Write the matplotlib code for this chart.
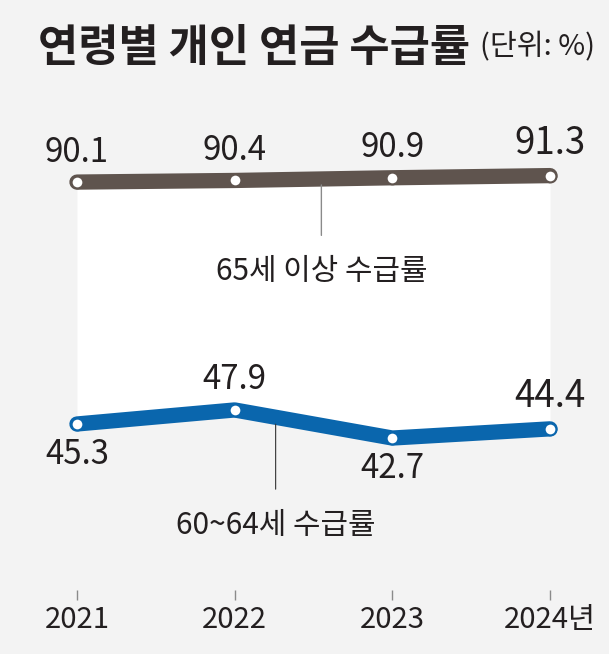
import matplotlib.pyplot as plt
from matplotlib import font_manager as fm

plt.rcParams['font.family'] = ['Noto Sans CJK KR', 'DejaVu Sans']

# data
years = ['2021', '2022', '2023', '2024년']
over65 = [90.1, 90.4, 90.9, 91.3]
age60_64 = [45.3, 47.9, 42.7, 44.4]

bg = '#f3f3f3'
brown = '#5f544e'
blue = '#0a66ad'
txt = '#231f20'

# numbers in the original use a condensed face; use one if there is one
num_font = ['Noto Sans CJK KR', 'DejaVu Sans']
num_stretch = 'normal'
k = 0.88
for fam, st in [('Noto Sans', 'condensed'), ('Noto Sans Condensed', 'normal'),
                ('Liberation Sans Narrow', 'normal')]:
    try:
        path = fm.findfont(fm.FontProperties(family=fam, stretch=st),
                           fallback_to_default=False)
    except ValueError:
        continue
    if 'ondensed' in path or 'arrow' in path:
        num_font = [fam, 'Noto Sans CJK KR']
        num_stretch = st
        k = 1.0
        break

fig = plt.figure(figsize=(6.09, 6.54), dpi=100, facecolor=bg)
# axes spans y=100px .. 590px of the figure
ax = fig.add_axes([0, 64 / 654, 1, 490 / 654])
ax.set_facecolor(bg)
x = list(range(len(years)))

ax.set_xlim(-0.488, 3.374)
ax.set_ylim(45.3 - 166 / 5.4, 45.3 + 324 / 5.4)

# white band between the two lines
ax.fill_between(x, age60_64, over65, color='white', lw=0, zorder=1)

for vals, col in [(over65, brown), (age60_64, blue)]:
    ax.plot(x, vals, color=col, lw=11, solid_capstyle='round',
            solid_joinstyle='round', zorder=3)
    ax.plot(x, vals, 'o', ms=8.5, mfc='white', mec=col, mew=1.5, zorder=4)

# value labels
for i, v in enumerate(over65):
    last = i == len(over65) - 1
    ax.annotate(f'{v}', (x[i], v), xytext=(0, 9),
                textcoords='offset points', ha='center', va='bottom',
                fontsize=(30 if last else 27) * k, color=txt,
                family=num_font, stretch=num_stretch,
                fontweight='medium' if last else 'normal')

low_above = [False, True, False, True]
for i, v in enumerate(age60_64):
    last = i == len(age60_64) - 1
    up = low_above[i]
    ax.annotate(f'{v}', (x[i], v), xytext=(0, 9 if up else -9),
                textcoords='offset points', ha='center',
                va='bottom' if up else 'top',
                fontsize=(30 if last else 27) * k, color=txt,
                family=num_font, stretch=num_stretch,
                fontweight='medium' if last else 'normal')

# series name annotations with leader lines
ax.annotate('65세 이상 수급률', xy=(1.55, 90.6), xytext=(1.55, 73.5),
            ha='center', va='center', fontsize=21.5, color=txt,
            arrowprops=dict(arrowstyle='-', color='#8a8a8a', lw=1,
                            shrinkA=13, shrinkB=4))
ax.annotate('60~64세 수급률', xy=(1.26, 46.3), xytext=(1.26, 26.5),
            ha='center', va='center', fontsize=21.5, color=txt,
            arrowprops=dict(arrowstyle='-', color='#333333', lw=0.8,
                            shrinkA=13, shrinkB=4))

for s in ax.spines.values():
    s.set_visible(False)
ax.set_yticks([])
ax.set_xticks(x)
ax.set_xticklabels(years, fontsize=24 * k, color=txt, family=num_font,
                   stretch=num_stretch)
ax.tick_params(axis='x', direction='out', length=7, width=1,
               color='#8a8a8a', pad=4)

fig.text(38 / 609, 1 - 48 / 654, '연령별 개인 연금 수급률', fontsize=31.5,
         fontweight='bold', color=txt, va='center', ha='left')
fig.text(595 / 609, 1 - 47 / 654, '(단위: %)', fontsize=21,
         fontweight='light', color=txt, va='center', ha='right')

fig.savefig('out.png', dpi=100, facecolor=bg)
